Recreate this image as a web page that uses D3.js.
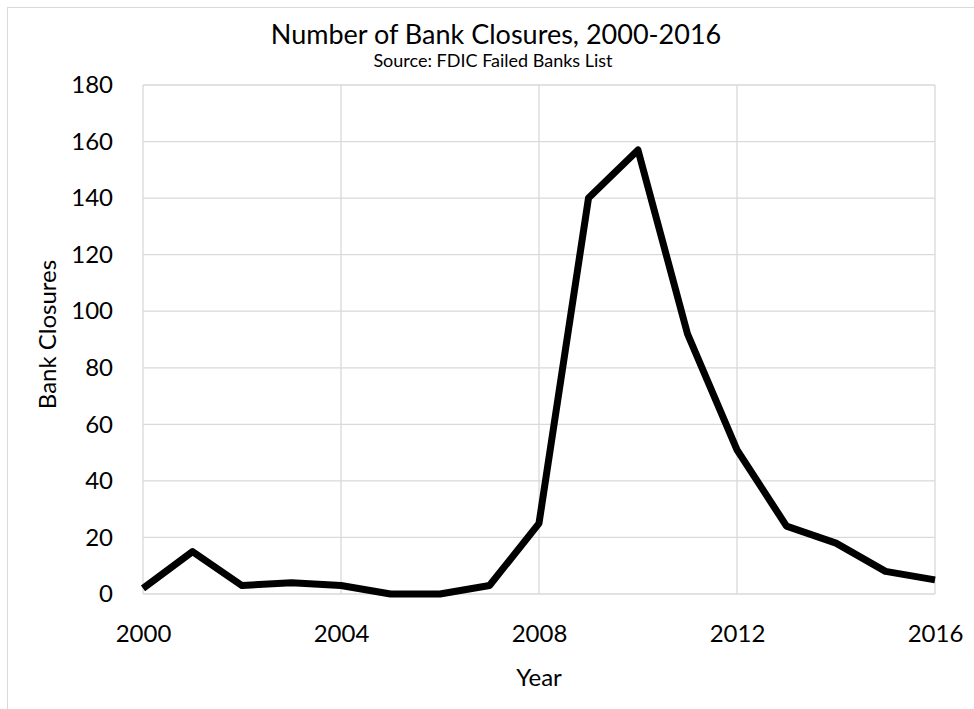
<!DOCTYPE html>
<html>
<head>
<meta charset="utf-8">
<script src="https://cdn.jsdelivr.net/npm/d3@7"></script>
<style>
  body { margin: 0; background: #fff; }
  text { font-family: Lato, "Open Sans", sans-serif; fill: #000; }
</style>
</head>
<body>
<div id="chart"></div>
<script>
// Bank closures per year
const years = [2000, 2001, 2002, 2003, 2004, 2005, 2006, 2007, 2008,
               2009, 2010, 2011, 2012, 2013, 2014, 2015, 2016];
const closures = [2, 15, 3, 4, 3, 0, 0, 3, 25, 140, 157, 92, 51, 24, 18, 8, 5];
const xTicks = [2000, 2004, 2008, 2012, 2016];
const yTicks = [0, 20, 40, 60, 80, 100, 120, 140, 160, 180];

const data = years.map((y, i) => ({ year: y, value: closures[i] }));

const W = 974, H = 709;
const margin = { top: 85, right: 39, bottom: 115, left: 143 };
const width = W - margin.left - margin.right,
      height = H - margin.top - margin.bottom;

const svg = d3.select("#chart").append("svg")
  .attr("width", W)
  .attr("height", H);

// outer chart frame
svg.append("rect")
  .attr("x", 7.5).attr("y", 7.5)
  .attr("width", W + 20).attr("height", H + 20)
  .style("fill", "none")
  .style("stroke", "#d9d9d9")
  .style("stroke-width", 1);

const g = svg.append("g")
  .attr("transform", `translate(${margin.left},${margin.top})`);

const x = d3.scaleLinear().domain([2000, 2016]).range([0, width]);
const y = d3.scaleLinear().domain([0, 180]).range([height, 0]);

// gridlines
g.append("g")
  .selectAll("line")
  .data(yTicks)
  .enter().append("line")
    .attr("x1", 0).attr("x2", width)
    .attr("y1", d => y(d)).attr("y2", d => y(d))
    .style("stroke", "#d9d9d9")
    .style("stroke-width", 1.3);

g.append("g")
  .selectAll("line")
  .data(xTicks)
  .enter().append("line")
    .attr("x1", d => x(d)).attr("x2", d => x(d))
    .attr("y1", 0).attr("y2", height)
    .style("stroke", "#d9d9d9")
    .style("stroke-width", 1.3);

// axes (labels only, no tick marks)
const xAxis = g.append("g")
  .attr("transform", `translate(0,${height})`)
  .call(d3.axisBottom(x).tickValues(xTicks).tickFormat(d3.format("d")).tickSize(0).tickPadding(31));
xAxis.select(".domain").remove();
xAxis.selectAll("text").style("font-size", "24px").style("font-family", "Lato, sans-serif");

const yAxis = g.append("g")
  .call(d3.axisLeft(y).tickValues(yTicks).tickSize(0).tickPadding(30));
yAxis.select(".domain").remove();
yAxis.selectAll("text").style("font-size", "24px").style("font-family", "Lato, sans-serif");

// line
const line = d3.line()
  .x(d => x(d.year))
  .y(d => y(d.value));

g.append("path")
  .datum(data)
  .attr("d", line)
  .style("fill", "none")
  .style("stroke", "#000")
  .style("stroke-width", 7)
  .style("stroke-linejoin", "round");

// titles
svg.append("text")
  .attr("x", 496).attr("y", 44)
  .attr("text-anchor", "middle")
  .style("font-size", "27px")
  .text("Number of Bank Closures, 2000-2016");

svg.append("text")
  .attr("x", 493).attr("y", 67)
  .attr("text-anchor", "middle")
  .style("font-size", "18px")
  .text("Source: FDIC Failed Banks List");

svg.append("text")
  .attr("x", margin.left + width / 2).attr("y", 686)
  .attr("text-anchor", "middle")
  .style("font-size", "24px")
  .text("Year");

svg.append("text")
  .attr("transform", `translate(56,${margin.top + height / 2 - 5}) rotate(-90)`)
  .attr("text-anchor", "middle")
  .style("font-size", "24px")
  .text("Bank Closures");
</script>
</body>
</html>
